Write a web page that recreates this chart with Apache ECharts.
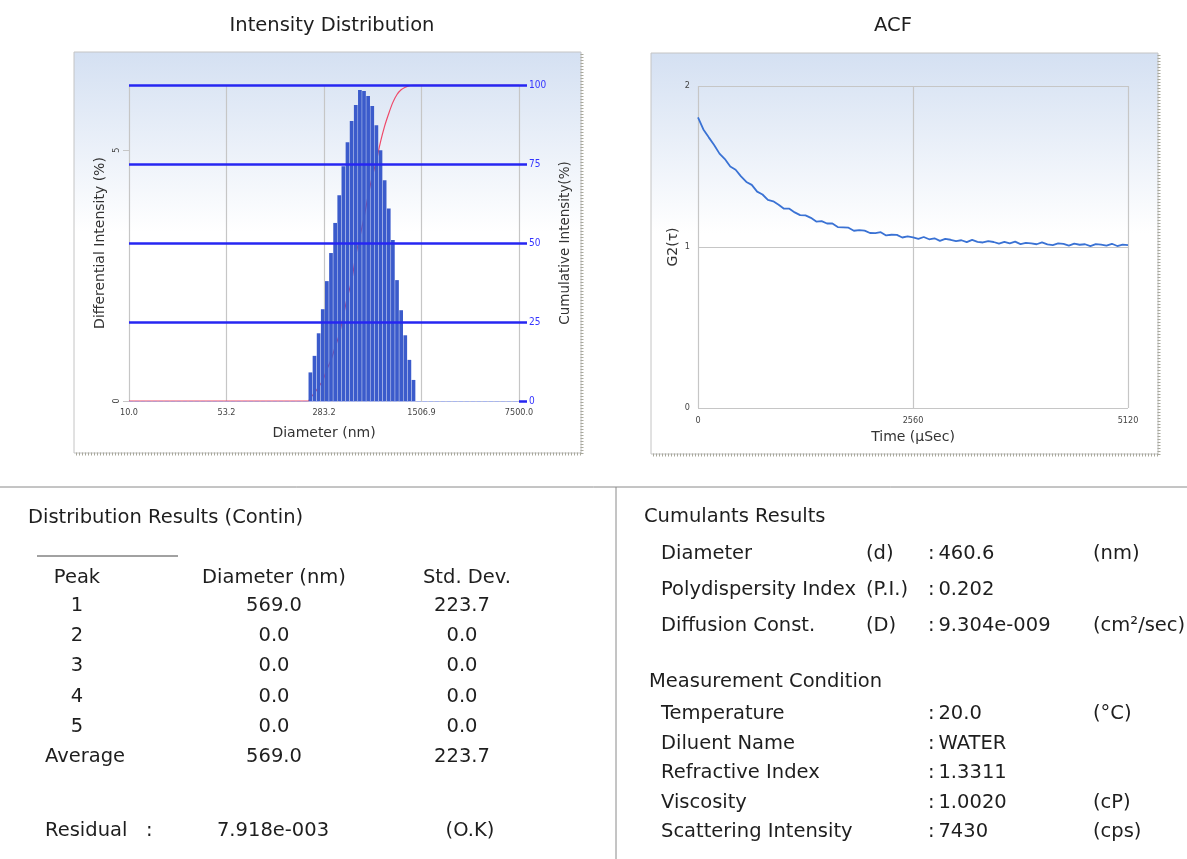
<!DOCTYPE html>
<html>
<head>
<meta charset="utf-8">
<script src="https://cdn.jsdelivr.net/npm/echarts@6/dist/echarts.min.js"></script>
<style>
html, body { margin: 0; padding: 0; background: #fff; }
#main { width: 1187px; height: 859px; }
</style>
</head>
<body>
<div id="main"></div>
<script>
const FONT = '"DejaVu Sans", sans-serif';
const TICK_FONT = '"DejaVu Sans Condensed", "DejaVu Sans", sans-serif';

// intensity distribution
const xTickValues = [10, 53.2, 283.2, 1506.9, 7500];
const xTickLabels = ['10.0', '53.2', '283.2', '1506.9', '7500.0'];
const barDiameter = [224.2, 240.6, 258.3, 277.2, 297.5, 319.3, 342.7, 367.8, 394.8, 423.7,
  454.8, 488.1, 523.9, 562.3, 603.5, 647.7, 695.2, 746.1, 800.8, 859.5,
  922.5, 990.1, 1062.7, 1140.6, 1224.2, 1313.9];
const barIntensity = [0.57, 0.90, 1.35, 1.83, 2.39, 2.95, 3.55, 4.10, 4.68, 5.16,
  5.58, 5.90, 6.20, 6.18, 6.08, 5.88, 5.50, 5.00, 4.40, 3.84,
  3.21, 2.41, 1.81, 1.31, 0.82, 0.42];
const cumDiameter = [10, 216, 224.2, 240.6, 258.3, 277.2, 297.5, 319.3, 342.7, 367.8, 394.8, 423.7,
  454.8, 488.1, 523.9, 562.3, 603.5, 647.7, 695.2, 746.1, 800.8, 859.5,
  922.5, 990.1, 1062.7, 1140.6, 1224.2, 1313.9, 7500];
const cumIntensity = [0, 0, 1, 2.5, 4.5, 6.5, 10, 13, 17, 21, 27, 33,
  38, 46, 52, 58, 65, 71, 76, 82, 87, 91,
  94.5, 97, 98.5, 99.3, 99.8, 100, 100];

// ACF
const acfTime = [0, 64, 128, 192, 256, 320, 384, 448, 512, 576, 640, 704, 768, 832, 896, 960,
  1024, 1088, 1152, 1216, 1280, 1344, 1408, 1472, 1536, 1600, 1664, 1728, 1792, 1856, 1920, 1984,
  2048, 2112, 2176, 2240, 2304, 2368, 2432, 2496, 2560, 2624, 2688, 2752, 2816, 2880, 2944, 3008,
  3072, 3136, 3200, 3264, 3328, 3392, 3456, 3520, 3584, 3648, 3712, 3776, 3840, 3904, 3968, 4032,
  4096, 4160, 4224, 4288, 4352, 4416, 4480, 4544, 4608, 4672, 4736, 4800, 4864, 4928, 4992, 5056, 5120];
const acfG2 = [1.805, 1.730, 1.681, 1.634, 1.580, 1.546, 1.500, 1.480, 1.439, 1.404, 1.386, 1.344, 1.326, 1.293, 1.284, 1.263,
  1.238, 1.238, 1.215, 1.198, 1.196, 1.181, 1.158, 1.161, 1.146, 1.146, 1.124, 1.122, 1.120, 1.101, 1.105, 1.102,
  1.087, 1.086, 1.092, 1.072, 1.076, 1.075, 1.059, 1.066, 1.060, 1.051, 1.062, 1.048, 1.054, 1.038, 1.051, 1.045,
  1.037, 1.042, 1.030, 1.044, 1.032, 1.028, 1.037, 1.031, 1.021, 1.032, 1.023, 1.033, 1.018, 1.026, 1.022, 1.017,
  1.029, 1.016, 1.012, 1.022, 1.019, 1.009, 1.021, 1.014, 1.017, 1.005, 1.018, 1.015, 1.009, 1.020, 1.006, 1.015, 1.012];

// result tables
const peakNames = ['1', '2', '3', '4', '5', 'Average'];
const peakDiameters = ['569.0', '0.0', '0.0', '0.0', '0.0', '569.0'];
const peakStdDevs = ['223.7', '0.0', '0.0', '0.0', '0.0', '223.7'];
const residualValue = '7.918e-003';
const residualStatus = '(O.K)';
const cumulantNames = ['Diameter', 'Polydispersity Index', 'Diffusion Const.'];
const cumulantSymbols = ['(d)', '(P.I.)', '(D)'];
const cumulantValues = [':\u2009460.6', ':\u20090.202', ':\u20099.304e-009'];
const cumulantUnits = ['(nm)', '', '(cm\u00b2/sec)'];
const conditionNames = ['Temperature', 'Diluent Name', 'Refractive Index', 'Viscosity', 'Scattering Intensity'];
const conditionValues = [':\u200920.0', ':\u2009WATER', ':\u20091.3311', ':\u20091.0020', ':\u20097430'];
const conditionUnits = ['(\u00b0C)', '', '', '(cP)', '(cps)'];

// map a diameter onto the tick-index axis (log scale between labelled ticks)
function toAxis(d) {
  let k = 0;
  while (k < xTickValues.length - 2 && d > xTickValues[k + 1]) k++;
  return k + Math.log(d / xTickValues[k]) / Math.log(xTickValues[k + 1] / xTickValues[k]);
}

function txt(x, y, text, opt) {
  opt = opt || {};
  const align = opt.align || 'left';
  return {
    type: 'text', x: x, y: y, z: 10,
    style: {
      text: text,
      font: (opt.size || 19.5) + 'px ' + FONT,
      fill: opt.color || '#1e1e1e',
      align: align, textAlign: align,
      verticalAlign: 'middle', textVerticalAlign: 'middle'
    }
  };
}

function panel(x, y, w, h) {
  return [
    {
      type: 'rect', z: -10, silent: true,
      shape: { x: x, y: y, width: w, height: h },
      style: {
        fill: { type: 'linear', x: 0, y: 0, x2: 0, y2: 1, colorStops: [
          { offset: 0, color: '#d4e0f2' }, { offset: 0.45, color: '#ffffff' }, { offset: 1, color: '#ffffff' }] },
        stroke: '#c4c4c4', lineWidth: 1
      }
    },
    { type: 'line', z: -9, shape: { x1: x + w + 1, y1: y + 2, x2: x + w + 1, y2: y + h + 1 },
      style: { stroke: '#a8a89c', lineWidth: 3, lineDash: [1, 2] } },
    { type: 'line', z: -9, shape: { x1: x + 2, y1: y + h + 1, x2: x + w + 1, y2: y + h + 1 },
      style: { stroke: '#a8a89c', lineWidth: 3, lineDash: [1, 2] } }
  ];
}

const graphics = [];
graphics.push(...panel(74, 52, 507, 401));
graphics.push(...panel(651, 53, 507, 401));
graphics.push(txt(332, 26, 'Intensity Distribution', { align: 'center' }));
graphics.push(txt(893, 26, 'ACF', { align: 'center' }));

// separators
graphics.push({ type: 'line', shape: { x1: 0, y1: 487, x2: 1187, y2: 487 }, style: { stroke: '#8a8a8a', lineWidth: 1 } });
graphics.push({ type: 'line', shape: { x1: 616, y1: 487, x2: 616, y2: 859 }, style: { stroke: '#8a8a8a', lineWidth: 1 } });

// distribution table
graphics.push(txt(28, 518, 'Distribution Results (Contin)'));
graphics.push({ type: 'line', shape: { x1: 37, y1: 556, x2: 178, y2: 556 }, style: { stroke: '#444', lineWidth: 1 } });
graphics.push(txt(77, 578, 'Peak', { align: 'center' }));
graphics.push(txt(274, 578, 'Diameter (nm)', { align: 'center' }));
graphics.push(txt(467, 578, 'Std. Dev.', { align: 'center' }));
peakNames.forEach(function (p, i) {
  const y = 606 + i * 30.2;
  if (p === 'Average') graphics.push(txt(45, y, p));
  else graphics.push(txt(77, y, p, { align: 'center' }));
  graphics.push(txt(274, y, peakDiameters[i], { align: 'center' }));
  graphics.push(txt(462, y, peakStdDevs[i], { align: 'center' }));
});
graphics.push(txt(45, 831, 'Residual'));
graphics.push(txt(146, 831, ':'));
graphics.push(txt(273, 831, residualValue, { align: 'center' }));
graphics.push(txt(470, 831, residualStatus, { align: 'center' }));

// cumulants table
graphics.push(txt(644, 517, 'Cumulants Results'));
cumulantNames.forEach(function (n, i) {
  const y = 554 + i * 36;
  graphics.push(txt(661, y, n));
  graphics.push(txt(866, y, cumulantSymbols[i]));
  graphics.push(txt(928, y, cumulantValues[i]));
  if (cumulantUnits[i]) graphics.push(txt(1093, y, cumulantUnits[i]));
});
graphics.push(txt(649, 682, 'Measurement Condition'));
conditionNames.forEach(function (n, i) {
  const y = 714 + i * 29.6;
  graphics.push(txt(661, y, n));
  graphics.push(txt(928, y, conditionValues[i]));
  if (conditionUnits[i]) graphics.push(txt(1093, y, conditionUnits[i]));
});

const axisText = { fontFamily: TICK_FONT, color: '#444', fontSize: 9 };
const nameText = { fontFamily: FONT, fontSize: 14, color: '#333' };
const gridGray = { color: '#c6c6c6', width: 1.2 };
const plain = function (v) { return String(v); };

const chart = echarts.init(document.getElementById('main'));
chart.setOption({
  animation: false,
  textStyle: { fontFamily: FONT },
  graphic: graphics,
  grid: [
    { left: 129, top: 85, width: 390, height: 316 },
    { left: 698, top: 86, width: 430, height: 322 }
  ],
  xAxis: [
    {
      type: 'value', gridIndex: 0, min: 0, max: 4, interval: 1,
      name: 'Diameter (nm)', nameLocation: 'middle', nameGap: 25, nameTextStyle: nameText,
      axisLine: { show: true, lineStyle: { color: '#a9b6ee', type: 'dashed', width: 1 } },
      axisTick: { show: false },
      axisLabel: Object.assign({ margin: 7, formatter: function (v) { return xTickLabels[Math.round(v)]; } }, axisText),
      splitLine: { show: true, lineStyle: gridGray }
    },
    {
      type: 'value', gridIndex: 1, min: 0, max: 5120, interval: 2560,
      name: 'Time (\u00b5Sec)', nameLocation: 'middle', nameGap: 22, nameTextStyle: nameText,
      axisLine: { show: false },
      axisTick: { show: false },
      axisLabel: Object.assign({ margin: 8, formatter: plain }, axisText),
      splitLine: { show: true, lineStyle: gridGray }
    }
  ],
  yAxis: [
    {
      type: 'value', gridIndex: 0, min: 0, max: 6.3, interval: 5,
      name: 'Differential Intensity (%)', nameLocation: 'middle', nameGap: 22, nameTextStyle: nameText,
      axisLine: { show: false },
      axisTick: { show: true, length: 6, customValues: [0, 5], lineStyle: { color: '#c6c6c6' } },
      axisLabel: Object.assign({ margin: 8, rotate: 90, customValues: [0, 5] }, axisText),
      splitLine: { show: true, showMaxLine: false, lineStyle: gridGray }
    },
    {
      type: 'value', gridIndex: 0, min: 0, max: 100, interval: 25, position: 'right', z: 4,
      name: 'Cumulative Intensity(%)', nameLocation: 'middle', nameGap: 39, nameRotate: 90,
      nameTextStyle: { fontFamily: FONT, fontSize: 13.5, color: '#333' },
      axisLine: { show: false },
      axisTick: { show: true, length: 8, lineStyle: { color: '#2626f2', width: 2.5 } },
      axisLabel: { fontFamily: TICK_FONT, fontSize: 10, color: '#3434ff', margin: 10 },
      splitLine: { show: true, showMinLine: false, lineStyle: { color: '#2626f2', width: 2.5 } }
    },
    {
      type: 'value', gridIndex: 1, min: 0, max: 2, interval: 1,
      name: 'G2(\u03c4)', nameLocation: 'middle', nameGap: 18, nameTextStyle: nameText,
      axisLine: { show: false },
      axisTick: { show: false },
      axisLabel: Object.assign({ margin: 8, formatter: plain }, axisText),
      splitLine: { show: true, lineStyle: gridGray }
    }
  ],
  series: [
    {
      type: 'line', xAxisIndex: 0, yAxisIndex: 1, z: 1,
      data: cumDiameter.map(function (d, i) { return [toAxis(d), cumIntensity[i]]; }),
      showSymbol: false, smooth: 0.3,
      lineStyle: { color: '#ee4a6a', width: 1.2 }
    },
    {
      type: 'bar', xAxisIndex: 0, yAxisIndex: 0, z: 2,
      data: barDiameter.map(function (d, i) { return [toAxis(d), barIntensity[i]]; }),
      barWidth: 3.7,
      itemStyle: { color: '#3b5bcb' }
    },
    {
      type: 'line', xAxisIndex: 1, yAxisIndex: 2,
      data: acfTime.map(function (t, i) { return [t, acfG2[i]]; }),
      showSymbol: false,
      lineStyle: { color: '#3a72d4', width: 1.8 }
    }
  ]
});
</script>
</body>
</html>
